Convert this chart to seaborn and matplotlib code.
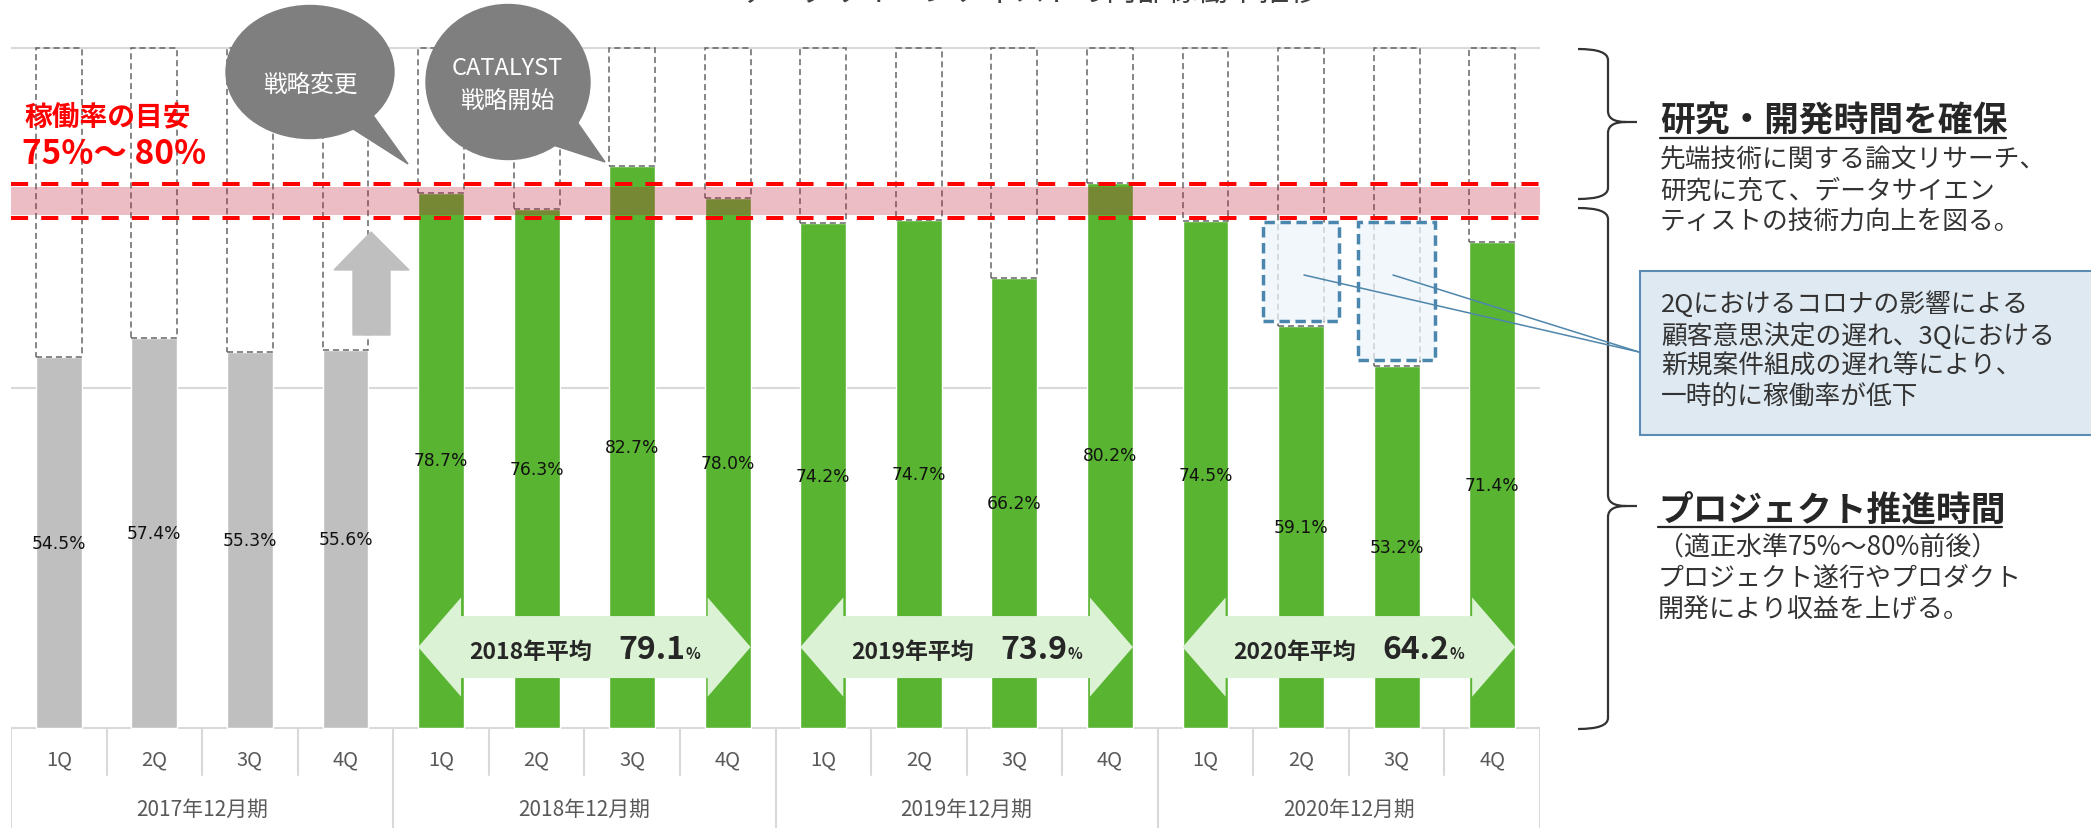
import matplotlib
matplotlib.use("Agg")
import matplotlib.pyplot as plt
import seaborn as sns
import numpy as np
import pandas as pd
from matplotlib.patches import Rectangle, Polygon, Ellipse, PathPatch
from matplotlib.path import Path
from matplotlib.offsetbox import TextArea, HPacker, AnnotationBbox, DrawingArea

# data
years = ["2017年12月期", "2018年12月期", "2019年12月期", "2020年12月期"]
quarters = ["1Q", "2Q", "3Q", "4Q"]
rates = [54.5, 57.4, 55.3, 55.6,
         78.7, 76.3, 82.7, 78.0,
         74.2, 74.7, 66.2, 80.2,
         74.5, 59.1, 53.2, 71.4]
avg_years = ["2018", "2019", "2020"]
avg_rates = [79.1, 73.9, 64.2]
target_low, target_high = 75, 80

W, H = 2091, 829
PX_PER_PCT = 6.8
BASE_Y = 729

sns.set_style("white")
plt.rcParams["font.family"] = ["Noto Sans CJK JP", "DejaVu Sans"]

df = pd.DataFrame({
    "slot": [f"{y[:4]}-{q}" for y in years for q in quarters],
    "quarter": quarters * len(years),
    "year": np.repeat(years, len(quarters)),
    "rate": rates,
})
colors = ["#bfbfbf" if y.startswith("2017") else "#58b431" for y in df["year"]]

fig = plt.figure(figsize=(W / 100, H / 100), dpi=100)
ax = fig.add_axes([11 / W, 0, 1529 / W, 1])
sns.barplot(data=df, x="slot", y="rate", hue="slot", order=list(df["slot"]),
            hue_order=list(df["slot"]), palette=colors, legend=False,
            width=0.48, saturation=1, errorbar=None, ax=ax, zorder=2)
ax.set_xlim(-0.5, 15.5)
ax.set_ylim(-(H - BASE_Y) / PX_PER_PCT, BASE_Y / PX_PER_PCT)
ax.set_axis_off()

# gridlines at 50% / 100% and the baseline
for gy in [0, 50, 100]:
    ax.plot([-0.5, 15.5], [gy, gy], color="#d9d9d9", lw=1.5, zorder=1)

# dashed remainder boxes up to 100%, value labels
bw = 0.48
for i, v in enumerate(df["rate"]):
    ax.add_patch(Rectangle((i - bw / 2, v), bw, 100 - v, fill=False,
                           ec="#666666", lw=1.1, ls=(0, (4, 2.5)), zorder=3))
    ax.text(i, v / 2, f"{v:.1f}%", ha="center", va="center", fontsize=12.3,
            family="DejaVu Sans", color="#111111", zorder=9)

# target band 75%-80%
ax.axhspan(target_low + 0.4, target_high - 0.4, color="#c2253d", alpha=0.3,
           lw=0, zorder=4)
for t in [target_low, target_high]:
    ax.axhline(t, color="red", lw=2.9, ls=(0, (4.25, 3.25)), zorder=5)

# covid-affected quarters
for cx, bot in [(13, 59.9), (14, 54.1)]:
    ax.add_patch(Rectangle((cx - 0.4, bot), 0.8, 74.4 - bot,
                           fc=(0.93, 0.96, 0.975, 0.75), ec="#4a86ad",
                           lw=2.5, ls=(0, (3, 1.6)), zorder=6))

# yearly average double arrows
cy, sh, hh, hl = 11.9, 4.56, 7.3, 0.45
for g, (yr, avg) in enumerate(zip(avg_years, avg_rates), start=1):
    x0 = 4 * g - bw / 2
    x1 = 4 * g + 3 + bw / 2
    pts = [(x0, cy), (x0 + hl, cy + hh), (x0 + hl, cy + sh), (x1 - hl, cy + sh),
           (x1 - hl, cy + hh), (x1, cy), (x1 - hl, cy - hh), (x1 - hl, cy - sh),
           (x0 + hl, cy - sh), (x0 + hl, cy - hh)]
    ax.add_patch(Polygon(pts, closed=True, fc="#dcf2d4", ec="none", zorder=7))
    t1 = TextArea(f"{yr}年平均", textprops=dict(fontsize=16.5, weight="bold", color="#262626"))
    gap = DrawingArea(19, 1)
    t2 = TextArea(f"{avg:.1f}", textprops=dict(fontsize=23, weight="bold", color="#262626"))
    t3 = TextArea("%", textprops=dict(fontsize=11, weight="bold", color="#262626"))
    pack = HPacker(children=[t1, gap, t2, t3], align="baseline", pad=0, sep=0)
    ab = AnnotationBbox(pack, ((x0 + x1) / 2, cy - 0.3), xycoords="data",
                        box_alignment=(0.5, 0.5), frameon=False, pad=0)
    ab.set_zorder(8)
    ax.add_artist(ab)

# category table below the bars
q_bottom = -(776 - BASE_Y) / PX_PER_PCT
y_bottom = ax.get_ylim()[0]
for k in range(17):
    xk = k - 0.5
    ax.plot([xk, xk], [0, y_bottom if k % 4 == 0 else q_bottom],
            color="#d9d9d9", lw=1.5, zorder=1)
for i, q in enumerate(df["quarter"]):
    ax.text(i, -(760 - BASE_Y) / PX_PER_PCT, q, ha="center", va="center",
            fontsize=14.5, color="#595959")
for j, yname in enumerate(years):
    ax.text(4 * j + 1.5, -(810 - BASE_Y) / PX_PER_PCT, yname, ha="center",
            va="center", fontsize=15, color="#595959")

# overlay in reference pixel coordinates for the annotations
ov = fig.add_axes([0, 0, 1, 1], zorder=5)
ov.set_xlim(0, W)
ov.set_ylim(H, 0)
ov.set_axis_off()

ov.text(1030, 8, "データサイエンティストの内部稼働率推移", fontsize=22,
        color="#404040", ha="center", va="bottom")

# speech bubbles
bubble = "#7f7f7f"
ov.add_patch(Ellipse((310, 73), 168, 133, color=bubble))
ov.add_patch(Polygon([(372, 115), (408, 165), (350, 128)], color=bubble))
ov.text(310, 85, "戦略変更", color="white", fontsize=17, ha="center", va="center")
ov.add_patch(Ellipse((508, 83), 164, 155, color=bubble))
ov.add_patch(Polygon([(575, 120), (605, 163), (553, 146)], color=bubble))
ov.text(507, 68, "CATALYST", color="white", fontsize=17, ha="center", va="center")
ov.text(507, 101, "戦略開始", color="white", fontsize=17, ha="center", va="center")

# up arrow
ov.add_patch(Polygon([(371, 233), (409, 271), (390, 271), (390, 336),
                      (353, 336), (353, 271), (334, 271)], color="#bfbfbf"))

# target label
ov.text(24, 117, "稼働率の目安", fontsize=20, weight="bold", color="red", va="center")
ov.text(22, 154, "75%～ 80%", fontsize=24, weight="bold", color="red", va="center")


def brace(top, bottom, mid, spine=1608, hook=1578, tip=1637):
    r = 11
    verts = [(hook, top), (spine, top), (spine, top + r), (spine, mid - r),
             (spine, mid), (spine + 18, mid), (tip, mid),
             (spine + 18, mid), (spine, mid), (spine, mid + r),
             (spine, bottom - r), (spine, bottom), (hook, bottom)]
    codes = [Path.MOVETO, Path.CURVE3, Path.CURVE3, Path.LINETO,
             Path.CURVE3, Path.CURVE3, Path.LINETO,
             Path.MOVETO, Path.CURVE3, Path.CURVE3,
             Path.LINETO, Path.CURVE3, Path.CURVE3]
    ov.add_patch(PathPatch(Path(verts, codes), fill=False, ec="#333333", lw=1.6))


brace(50, 200, 123)
brace(209, 730, 507)

dark = "#262626"
body = "#333333"
ov.text(1660, 121, "研究・開発時間を確保", fontsize=25, weight="bold", color=dark, va="center")
ov.plot([1660, 2006], [139, 139], color=dark, lw=1.6)
for yy, line in zip([160, 192, 222], ["先端技術に関する論文リサーチ、",
                                     "研究に充て、データサイエン",
                                     "ティストの技術力向上を図る。"]):
    ov.text(1660, yy, line, fontsize=18.5, color=body, va="center")

ov.text(1658, 510, "プロジェクト推進時間", fontsize=25, weight="bold", color=dark, va="center")
ov.plot([1658, 2002], [528, 528], color=dark, lw=1.6)
for yy, line in zip([547, 578, 610], ["（適正水準75%～80%前後）",
                                     "プロジェクト遂行やプロダクト",
                                     "開発により収益を上げる。"]):
    ov.text(1658, yy, line, fontsize=18.7, color=body, va="center")

# covid callout
ov.add_patch(Rectangle((1640, 272), 470, 164, fc="#dfe9f1", ec="#5a8cb5", lw=1.5))
for yy, line in zip([305, 337, 367, 397], ["2Qにおけるコロナの影響による",
                                          "顧客意思決定の遅れ、3Qにおける",
                                          "新規案件組成の遅れ等により、",
                                          "一時的に稼働率が低下"]):
    ov.text(1661, yy, line, fontsize=18.5, color=body, va="center")
ov.plot([1304, 1639], [276, 353], color="#4f86ab", lw=1.1)
ov.plot([1393, 1639], [276, 353], color="#4f86ab", lw=1.1)

fig.savefig("out.png", dpi=100)
